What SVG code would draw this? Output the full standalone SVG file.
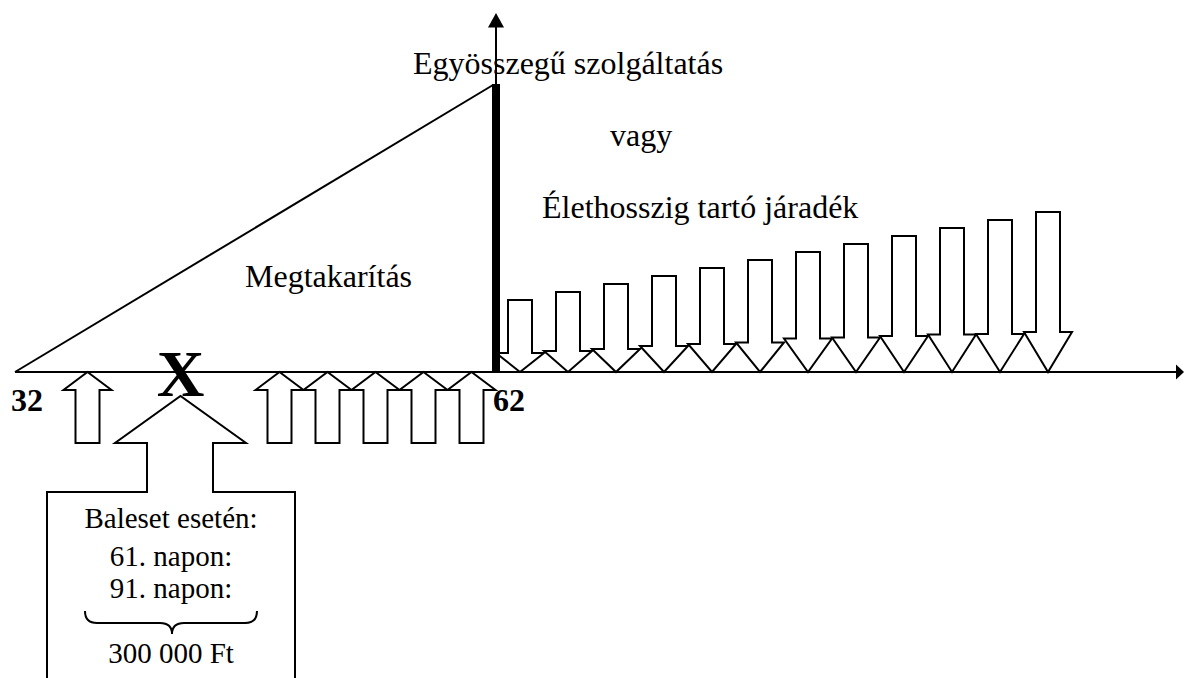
<svg xmlns="http://www.w3.org/2000/svg" xmlns:xlink="http://www.w3.org/1999/xlink" width="1184" height="678" viewBox="0 0 1184 678">
<style>
.ln{stroke:#000;stroke-width:2;fill:none}
.arr{fill:#fff;stroke:#000;stroke-width:2;stroke-linejoin:miter}
.t{font-family:"Liberation Serif","Times New Roman",serif;font-size:32px;fill:#000}
.b{font-weight:bold}
.big{font-size:66px;text-anchor:middle}
.bx{font-family:"Liberation Serif","Times New Roman",serif;font-size:29px;fill:#000;text-anchor:middle}
</style>
<defs>
<path id="up" d="M0,0 L24,18 H12 V71 H-12 V18 H-24 Z"/>
</defs>
<rect width="1184" height="678" fill="#fff"/>
<g id="connectors">
<line class="ln" x1="15" y1="372" x2="1177" y2="372"/>
<polygon points="1184,372 1176,364.5 1176,379.5" fill="#000"/>
<line class="ln" x1="496" y1="26" x2="496" y2="86"/>
<polygon points="496,13 488,27.5 504,27.5" fill="#000"/>
<line class="ln" x1="15" y1="372" x2="493" y2="85"/>
</g>
<g id="up-arrows">
<use xlink:href="#up" class="arr" x="87.5" y="372"/>
<use xlink:href="#up" class="arr" x="279.5" y="372"/>
<use xlink:href="#up" class="arr" x="327.5" y="372"/>
<use xlink:href="#up" class="arr" x="375.5" y="372"/>
<use xlink:href="#up" class="arr" x="423.5" y="372"/>
<use xlink:href="#up" class="arr" x="471.5" y="372"/>
</g>
<g id="down-arrows">
<path class="arr" d="M508,300 H532 V353 H544 L520,372 L496,353 H508 Z"/>
<path class="arr" d="M556,292 H580 V351 H592 L568,372 L544,351 H556 Z"/>
<path class="arr" d="M604,284 H628 V349 H640 L616,372 L592,349 H604 Z"/>
<path class="arr" d="M652,276 H676 V346 H688 L664,372 L640,346 H652 Z"/>
<path class="arr" d="M700,268 H724 V344 H736 L712,372 L688,344 H700 Z"/>
<path class="arr" d="M748,260 H772 V342.5 H784 L760,372 L736,342.5 H748 Z"/>
<path class="arr" d="M796,252 H820 V338.5 H832 L808,372 L784,338.5 H796 Z"/>
<path class="arr" d="M844,244 H868 V337.5 H880 L856,372 L832,337.5 H844 Z"/>
<path class="arr" d="M892,236 H916 V336 H928 L904,372 L880,336 H892 Z"/>
<path class="arr" d="M940,228 H964 V334.5 H976 L952,372 L928,334.5 H940 Z"/>
<path class="arr" d="M988,220 H1012 V334 H1024 L1000,372 L976,334 H988 Z"/>
<path class="arr" d="M1036,212 H1060 V332 H1072 L1048,372 L1024,332 H1036 Z"/>
</g>
<g id="bar">
<rect x="492" y="84" width="8" height="289" fill="#000"/>
</g>
<g id="labels">
<text class="t" x="413" y="74">Egyösszegű szolgáltatás</text>
<text class="t" x="610" y="146">vagy</text>
<text class="t" x="542" y="218">Élethosszig tartó járadék</text>
<text class="t" x="245" y="287">Megtakarítás</text>
<text class="t b" x="11" y="411">32</text>
<text class="t b" x="493" y="411">62</text>
<text class="t b big" x="180.5" y="396">X</text>
</g>
<g id="callout">
<path class="arr" d="M47,682 V492 H147 V443 H115 L180.5,396 L246,443 H213 V492 H295 V682"/>
<text class="bx" x="171" y="528">Baleset esetén:</text>
<text class="bx" x="171" y="566">61. napon:</text>
<text class="bx" x="171" y="598">91. napon:</text>
<path class="ln" d="M85,611 Q85,623 97,623 H160 Q172,623 172,634 Q172,623 184,623 H245 Q257,623 257,611"/>
<text class="bx" x="171" y="663">300 000 Ft</text>
</g>
</svg>
